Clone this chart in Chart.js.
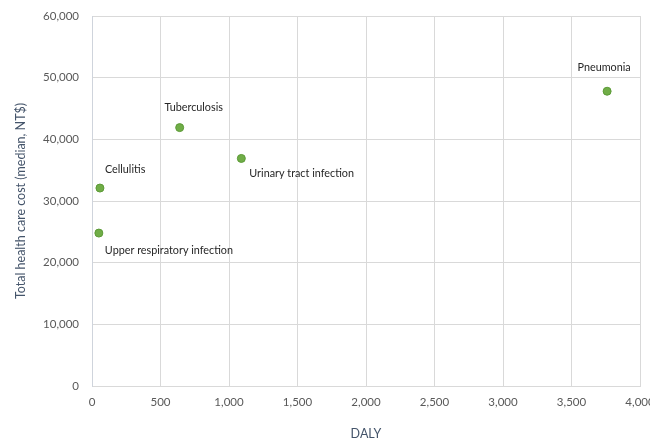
<!DOCTYPE html>
<html>
<head>
<meta charset="utf-8">
<script src="https://cdn.jsdelivr.net/npm/chart.js@4/dist/chart.umd.min.js"></script>
<style>
  html, body { margin: 0; padding: 0; background: #ffffff; }
  #wrap { width: 650px; height: 441px; }
</style>
</head>
<body>
<div id="wrap"><canvas id="chart" width="650" height="441"></canvas></div>
<script>
// Disease burden versus median total health care cost
const diseases = ['Cellulitis', 'Upper respiratory infection', 'Tuberculosis', 'Urinary tract infection', 'Pneumonia'];
const dalyValues = [58, 50, 640, 1090, 3760];
const costValues = [32100, 24800, 41900, 36900, 47800];

// where each disease name sits relative to its point
const labelPlacement = [
  { align: 'left',   dx: 5,  dy: -19 },
  { align: 'left',   dx: 6,  dy: 17 },
  { align: 'center', dx: 14, dy: -20 },
  { align: 'left',   dx: 8,  dy: 15 },
  { align: 'center', dx: -3, dy: -24 }
];

const FONT = 'Lato, "Open Sans", sans-serif';

const pointLabels = {
  id: 'pointLabels',
  afterDatasetsDraw(chart) {
    const ctx = chart.ctx;
    const meta = chart.getDatasetMeta(0);
    ctx.save();
    ctx.font = '10.8px ' + FONT;
    ctx.fillStyle = '#262626';
    ctx.textBaseline = 'middle';
    meta.data.forEach((pt, i) => {
      const p = labelPlacement[i];
      ctx.textAlign = p.align;
      ctx.fillText(diseases[i], pt.x + p.dx, pt.y + p.dy);
    });
    ctx.restore();
  }
};

const points = dalyValues.map((x, i) => ({ x: x, y: costValues[i] }));

new Chart(document.getElementById('chart'), {
  type: 'scatter',
  data: {
    datasets: [{
      label: 'Diseases',
      data: points,
      backgroundColor: '#70ad47',
      borderColor: '#5b9a36',
      borderWidth: 1,
      pointRadius: 4,
      pointHoverRadius: 4
    }]
  },
  options: {
    responsive: false,
    animation: false,
    layout: { padding: { left: 13, right: 10, top: 16, bottom: 0 } },
    plugins: {
      legend: { display: false },
      tooltip: { enabled: false }
    },
    scales: {
      x: {
        type: 'linear',
        min: 0,
        max: 4000,
        ticks: {
          stepSize: 500,
          color: '#595959',
          font: { family: FONT, size: 11.5 },
          padding: 9,
          maxRotation: 0,
          callback: v => v.toLocaleString('en-US')
        },
        grid: { color: '#d9d9d9', drawTicks: false },
        border: { color: '#d9d9d9' },
        title: {
          display: true,
          text: 'DALY',
          color: '#44546a',
          font: { family: FONT, size: 12.5 },
          padding: { top: 10, bottom: 0 }
        },
        afterFit(scale) { scale.paddingRight = 0; scale.paddingLeft = 0; scale.height = 55; }
      },
      y: {
        type: 'linear',
        min: 0,
        max: 60000,
        ticks: {
          stepSize: 10000,
          color: '#595959',
          font: { family: FONT, size: 11.5 },
          padding: 13,
          callback: v => v.toLocaleString('en-US')
        },
        grid: { color: '#d9d9d9', drawTicks: false },
        border: { color: '#cfd4dc' },
        title: {
          display: true,
          text: 'Total health care cost (median, NT$)',
          color: '#44546a',
          font: { family: FONT, size: 12.5 },
          padding: { top: 0, bottom: 10 }
        },
        afterFit(scale) { scale.width = 79; scale.paddingTop = 0; scale.paddingBottom = 0; }
      }
    }
  },
  plugins: [pointLabels]
});
</script>
</body>
</html>
